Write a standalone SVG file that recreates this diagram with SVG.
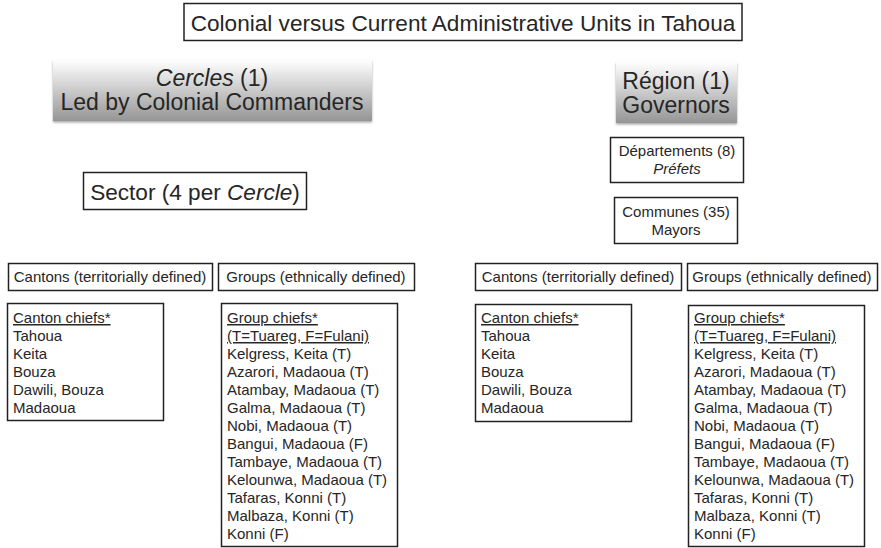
<svg xmlns="http://www.w3.org/2000/svg" width="881" height="548" viewBox="0 0 881 548">
<defs>
<linearGradient id="g" x1="0" y1="0" x2="0" y2="1">
<stop offset="0" stop-color="#ffffff"/>
<stop offset="1" stop-color="#959595"/>
</linearGradient>
<filter id="sh" x="-5%" y="-5%" width="110%" height="120%">
<feDropShadow dx="0" dy="1.5" stdDeviation="1.2" flood-color="#000" flood-opacity="0.35"/>
</filter>
</defs>
<style>
text{font-family:"Liberation Sans",Arial,sans-serif;fill:#262626}
.box{fill:#fff;stroke:#222;stroke-width:1.5}
.grad{fill:url(#g);filter:url(#sh)}
.big{font-size:22.6px}
.hd{font-size:23px}
.md{font-size:15px}
.sm{font-size:15px}
.c{text-anchor:middle}
.u{text-decoration:underline}
</style>
<rect width="881" height="548" fill="#fff"/>
<g id="title">
<rect class="box" x="184" y="3.5" width="558" height="37"/>
<text class="big c" x="463" y="31">Colonial versus Current Administrative Units in Tahoua</text>
</g>
<g id="cercles">
<rect class="grad" x="53" y="60" width="319" height="61"/>
<text class="hd c" x="212" y="86"><tspan font-style="italic">Cercles</tspan> (1)</text>
<text class="hd c" x="212" y="110">Led by Colonial Commanders</text>
</g>
<g id="region">
<rect class="grad" x="616" y="62" width="121" height="61"/>
<text class="hd c" x="676" y="89">Région (1)</text>
<text class="hd c" x="676" y="113">Governors</text>
</g>
<g id="sector">
<rect class="box" x="83.5" y="172.5" width="223" height="37"/>
<text class="big c" x="195" y="200">Sector (4 per <tspan font-style="italic">Cercle</tspan>)</text>
</g>
<g id="departements">
<rect class="box" x="610.5" y="137.5" width="133" height="45"/>
<text class="md c" x="677" y="156">Départements (8)</text>
<text class="md c" x="677" y="174" font-style="italic">Préfets</text>
</g>
<g id="communes">
<rect class="box" x="614.5" y="197.5" width="123" height="46"/>
<text class="md c" x="676" y="217">Communes (35)</text>
<text class="md c" x="676" y="235">Mayors</text>
</g>
<g id="cantons-left">
<rect class="box" x="8.5" y="263.5" width="204" height="27"/>
<text class="md c" x="110" y="282">Cantons (territorially defined)</text>
</g>
<g id="groups-left">
<rect class="box" x="218.5" y="263.5" width="196" height="27"/>
<text class="md c" x="316" y="282">Groups (ethnically defined)</text>
</g>
<g id="cantons-right">
<rect class="box" x="475.5" y="263.5" width="206" height="27"/>
<text class="md c" x="578" y="282">Cantons (territorially defined)</text>
</g>
<g id="groups-right">
<rect class="box" x="687.5" y="263.5" width="190" height="27"/>
<text class="md c" x="782" y="282">Groups (ethnically defined)</text>
</g>
<g id="canton-chiefs-left">
<rect class="box" x="7.5" y="303.5" width="156" height="117"/>
<text class="sm" x="13" y="323"><tspan class="u">Canton chiefs*</tspan><tspan x="13" dy="18">Tahoua</tspan><tspan x="13" dy="18">Keita</tspan><tspan x="13" dy="18">Bouza</tspan><tspan x="13" dy="18">Dawili, Bouza</tspan><tspan x="13" dy="18">Madaoua</tspan></text>
</g>
<g id="group-chiefs-left">
<rect class="box" x="221.5" y="303.5" width="176" height="243"/>
<text class="sm" x="227" y="323"><tspan class="u">Group chiefs*</tspan><tspan x="227" dy="18" class="u">(T=Tuareg, F=Fulani)</tspan><tspan x="227" dy="18">Kelgress, Keita (T)</tspan><tspan x="227" dy="18">Azarori, Madaoua (T)</tspan><tspan x="227" dy="18">Atambay, Madaoua (T)</tspan><tspan x="227" dy="18">Galma, Madaoua (T)</tspan><tspan x="227" dy="18">Nobi, Madaoua (T)</tspan><tspan x="227" dy="18">Bangui, Madaoua (F)</tspan><tspan x="227" dy="18">Tambaye, Madaoua (T)</tspan><tspan x="227" dy="18">Kelounwa, Madaoua (T)</tspan><tspan x="227" dy="18">Tafaras, Konni (T)</tspan><tspan x="227" dy="18">Malbaza, Konni (T)</tspan><tspan x="227" dy="18">Konni (F)</tspan></text>
</g>
<g id="canton-chiefs-right">
<rect class="box" x="475.5" y="304.5" width="156" height="117"/>
<text class="sm" x="481" y="323"><tspan class="u">Canton chiefs*</tspan><tspan x="481" dy="18">Tahoua</tspan><tspan x="481" dy="18">Keita</tspan><tspan x="481" dy="18">Bouza</tspan><tspan x="481" dy="18">Dawili, Bouza</tspan><tspan x="481" dy="18">Madaoua</tspan></text>
</g>
<g id="group-chiefs-right">
<rect class="box" x="688.5" y="305.5" width="176" height="241"/>
<text class="sm" x="694" y="323"><tspan class="u">Group chiefs*</tspan><tspan x="694" dy="18" class="u">(T=Tuareg, F=Fulani)</tspan><tspan x="694" dy="18">Kelgress, Keita (T)</tspan><tspan x="694" dy="18">Azarori, Madaoua (T)</tspan><tspan x="694" dy="18">Atambay, Madaoua (T)</tspan><tspan x="694" dy="18">Galma, Madaoua (T)</tspan><tspan x="694" dy="18">Nobi, Madaoua (T)</tspan><tspan x="694" dy="18">Bangui, Madaoua (F)</tspan><tspan x="694" dy="18">Tambaye, Madaoua (T)</tspan><tspan x="694" dy="18">Kelounwa, Madaoua (T)</tspan><tspan x="694" dy="18">Tafaras, Konni (T)</tspan><tspan x="694" dy="18">Malbaza, Konni (T)</tspan><tspan x="694" dy="18">Konni (F)</tspan></text>
</g>
<g id="connectors"></g>
</svg>
